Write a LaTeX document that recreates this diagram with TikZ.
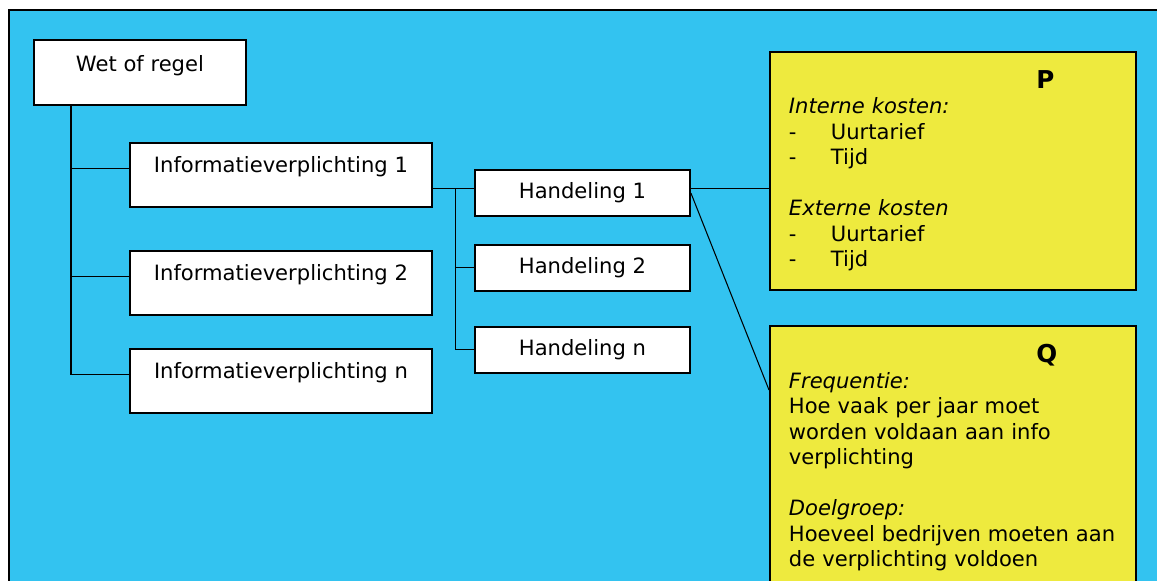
\documentclass[tikz,border=0pt]{standalone}
\usepackage{fontspec}
\setmainfont{DejaVu Sans}
\definecolor{achtergrond}{RGB}{51,195,240}
\definecolor{geel}{RGB}{238,234,62}
\newcommand{\kop}[1]{\hspace*{4.95cm}{\fontsize{14}{14.5}\selectfont\textbf{#1}}}
\begin{document}
\begin{tikzpicture}[x=0.02cm, y=-0.02cm]
        \tikzstyle{every node}=[draw, line width=1.1pt, fill=white, inner sep=0pt, font=\fontsize{12}{14.5}\selectfont];
        \tikzstyle{hoofd}=[anchor=north west, minimum width=6.04cm, text height=17pt, text depth=19.4pt];
        \tikzstyle{handeling}=[anchor=north west, minimum width=4.3cm, minimum height=0.92cm];
        \tikzstyle{kader}=[anchor=north west, fill=geel, text width=6.56cm, inner xsep=0.38cm, inner ysep=10.6pt, align=left];
        \tikzstyle{lijn}=[line width=0.6pt];
        \useasboundingbox (0,0) rectangle (1157,581);
        \filldraw[fill=achtergrond, line width=1.5pt] (9,10) rectangle (1175,600);
        % linker kolom
        \node[hoofd, minimum width=4.24cm, text height=18pt, text depth=19pt] (wet) at (33,39) {Wet of regel};
        \node[hoofd] (info1) at (129,142) {Informatieverplichting 1};
        \node[hoofd] (info2) at (129,250) {Informatieverplichting 2};
        \node[hoofd] (infon) at (129,348) {Informatieverplichting n};
        % handelingen
        \node[handeling] (hand1) at (474,169) {Handeling 1};
        \node[handeling] (hand2) at (474,244) {Handeling 2};
        \node[handeling] (handn) at (474,326) {Handeling n};
        % P en Q
        \node[kader] (p) at (769,51) {\kop{P}\\ \textit{Interne kosten:}\\ \makebox[0.84cm][l]{-}Uurtarief\\ \makebox[0.84cm][l]{-}Tijd\\[14.5pt] \textit{Externe kosten}\\ \makebox[0.84cm][l]{-}Uurtarief\\ \makebox[0.84cm][l]{-}Tijd};
        \node[kader] (q) at (769,325) {\kop{Q}\\ \textit{Frequentie:}\\ Hoe vaak per jaar moet\\ worden voldaan aan info\\ verplichting\\[14.5pt] \textit{Doelgroep:}\\ Hoeveel bedrijven moeten aan\\ de verplichting voldoen};
        \coordinate (stam) at ([xshift=0.76cm]wet.south west);
        \coordinate (h1in) at ([yshift=2.3pt]hand1.west);
        \coordinate (h1uit) at ([yshift=2.3pt]hand1.east);
        \coordinate (tak) at ([xshift=0.46cm]info1.east |- h1in);
        \coordinate (qin) at ([yshift=-1.3cm]q.north west);
        \draw[lijn] (stam) |- (infon.mid west);
        \draw[lijn] (stam |- info1.mid west) -- (info1.mid west);
        \draw[lijn] (stam |- info2.mid west) -- (info2.mid west);
        \draw[lijn] (info1.east |- h1in) -- (h1in);
        \draw[lijn] (tak) |- (handn.west);
        \draw[lijn] (tak |- hand2.west) -- (hand2.west);
        \draw[lijn] (h1uit) -- (h1uit -| p.west);
        \draw[lijn] (hand1.east) -- (qin);
    \end{tikzpicture}
\end{document}
